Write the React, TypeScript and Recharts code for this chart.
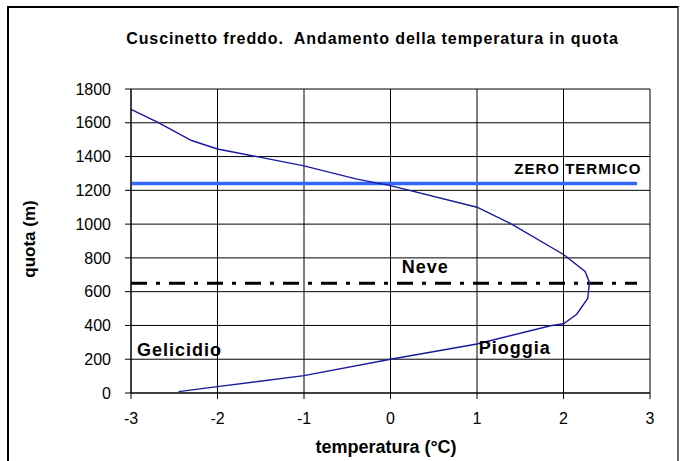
import { LineChart, Line, XAxis, YAxis, CartesianGrid, ReferenceLine, ReferenceDot } from "recharts"

// temperatura (°C) e quota (m) del profilo
const temperatura = [-2.45, -2.0, -1.0, 0.0, 1.0, 1.85, 2.0, 2.15, 2.28, 2.3, 2.25, 2.0, 1.4, 1.0, 0.0, -0.4, -1.0, -1.5, -2.0, -2.3, -2.7, -3.0]
const quota = [8, 38, 103, 200, 290, 398, 410, 465, 560, 655, 720, 820, 1000, 1100, 1228, 1268, 1345, 1395, 1445, 1495, 1605, 1680]

const xTicks = [-3, -2, -1, 0, 1, 2, 3]
const yTicks = [0, 200, 400, 600, 800, 1000, 1200, 1400, 1600, 1800]

const zeroTermico = 1240
const limiteNeve = 650
const lineEnd = 2.85

const labels = [
  { text: "ZERO TERMICO", x: 2.9, y: 1330, anchor: "end", size: 15 },
  { text: "Neve", x: 0.13, y: 746, anchor: "start", size: 18 },
  { text: "Gelicidio", x: -2.93, y: 254, anchor: "start", size: 18 },
  { text: "Pioggia", x: 1.02, y: 266, anchor: "start", size: 18 },
]

const FONT = "'Liberation Sans', Arial, sans-serif"

const data = temperatura.map((t, i) => ({ temp: t, quota: quota[i] }))

function textLabel(text: string, anchor: string, size: number) {
  // eslint-disable-next-line @typescript-eslint/no-explicit-any
  return (props: any) => {
    const vb = props.viewBox || {}
    return (
      <text
        x={vb.x}
        y={vb.y}
        textAnchor={anchor}
        dominantBaseline="central"
        fontFamily={FONT}
        fontWeight="bold"
        fontSize={size}
        letterSpacing={1}
        fill="#000"
      >
        {text}
      </text>
    )
  }
}

export default function App() {
  return (
    <div style={{ position: "absolute", left: 0, top: 0, width: 683, height: 461, background: "#fff", overflow: "hidden" }}>
      <div
        style={{
          position: "absolute",
          left: 7,
          top: 6,
          width: 668,
          height: 480,
          borderLeft: "2px solid #000",
          borderTop: "2px solid #000",
          borderRight: "2px solid #666",
        }}
      />
      <div
        style={{
          position: "absolute",
          left: 0,
          width: 745,
          top: 30,
          textAlign: "center",
          fontFamily: FONT,
          fontWeight: "bold",
          fontSize: 16,
          letterSpacing: 0.9,
          color: "#000",
        }}
      >
        Cuscinetto freddo.&nbsp; Andamento della temperatura in quota
      </div>
      <div
        style={{
          position: "absolute",
          left: 30,
          top: 239,
          transform: "translate(-50%, -50%) rotate(-90deg)",
          fontFamily: FONT,
          fontWeight: "bold",
          fontSize: 17,
          whiteSpace: "nowrap",
        }}
      >
        quota (m)
      </div>
      <div
        style={{
          position: "absolute",
          left: 386,
          top: 447,
          transform: "translate(-50%, -50%)",
          fontFamily: FONT,
          fontWeight: "bold",
          fontSize: 18,
          whiteSpace: "nowrap",
        }}
      >
        temperatura (°C)
      </div>
      <div style={{ position: "absolute", left: 0, top: 0 }}>
        <LineChart width={683} height={461} data={data} margin={{ top: 89, right: 33, bottom: 28, left: 60 }}>
          <CartesianGrid stroke="#000" strokeWidth={1} />
          <XAxis
            type="number"
            dataKey="temp"
            domain={[-3, 3]}
            ticks={xTicks}
            height={40}
            tickSize={6}
            tickMargin={14}
            tick={{ fill: "#000", fontSize: 16, fontFamily: FONT }}
            tickLine={{ stroke: "#000" }}
            axisLine={{ stroke: "#000" }}
          />
          <YAxis
            type="number"
            dataKey="quota"
            domain={[0, 1800]}
            ticks={yTicks}
            width={71}
            tickSize={6}
            tickMargin={14}
            tick={{ fill: "#000", fontSize: 16, fontFamily: FONT }}
            tickLine={{ stroke: "#000" }}
            axisLine={{ stroke: "#000" }}
          />
          <ReferenceLine
            segment={[{ x: -3, y: zeroTermico }, { x: lineEnd, y: zeroTermico }]}
            stroke="#3366ff"
            strokeWidth={3.5}
          />
          <ReferenceLine
            segment={[{ x: -3, y: limiteNeve }, { x: lineEnd, y: limiteNeve }]}
            stroke="#000"
            strokeWidth={3}
            strokeDasharray="16 9 4 9"
          />
          <Line
            type="linear"
            dataKey="quota"
            stroke="#1a1a9c"
            strokeWidth={1.4}
            dot={false}
            isAnimationActive={false}
          />
          {labels.map((l) => (
            <ReferenceDot
              key={l.text}
              x={l.x}
              y={l.y}
              r={0}
              fill="none"
              stroke="none"
              label={textLabel(l.text, l.anchor, l.size)}
            />
          ))}
        </LineChart>
      </div>
    </div>
  )
}
